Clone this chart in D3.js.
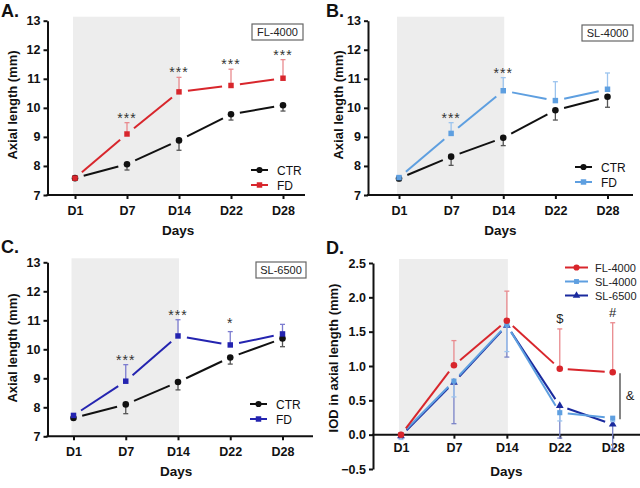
<!DOCTYPE html>
<html><head><meta charset="utf-8">
<script src="https://cdn.jsdelivr.net/npm/d3@7"></script>
<style>
body{margin:0;background:#fff}
svg{display:block}
text{font-family:Arial,"Liberation Sans",Helvetica,sans-serif}
</style>
</head><body>
<svg width="640" height="488"></svg>
<script>
// ---------- data ----------
const days = ["D1", "D7", "D14", "D22", "D28"];
const axialTicks = [7, 8, 9, 10, 11, 12, 13];
const iodTicks = [-0.5, 0, 0.5, 1.0, 1.5, 2.0, 2.5];

// Panel A: FL-4000
const aCtr = [7.58, 8.06, 8.88, 9.78, 10.09];
const aCtrErr = [0.03, 0.2, 0.34, 0.2, 0.2];
const aFd = [7.58, 9.1, 10.55, 10.77, 11.02];
const aFdErr = [0.03, 0.39, 0.5, 0.56, 0.64];
const aStars = ["", "***", "***", "***", "***"];

// Panel B: SL-4000
const bCtr = [7.57, 8.32, 8.97, 9.92, 10.38];
const bCtrErr = [0.08, 0.3, 0.27, 0.34, 0.36];
const bFd = [7.6, 9.12, 10.59, 10.25, 10.64];
const bFdErr = [0.05, 0.37, 0.45, 0.65, 0.56];
const bStars = ["", "***", "***", "", ""];

// Panel C: SL-6500
const cCtr = [7.63, 8.1, 8.87, 9.72, 10.37];
const cCtrErr = [0.05, 0.32, 0.27, 0.23, 0.28];
const cFd = [7.72, 8.9, 10.46, 10.15, 10.53];
const cFdErr = [0.03, 0.57, 0.56, 0.46, 0.33];
const cStars = ["", "***", "***", "*", ""];

// Panel D: IOD in axial length
const dFL = [0, 1.01, 1.66, 0.96, 0.91];
const dFLErr = [0.03, 0.36, 0.43, 0.58, 0.72];      // upward
const dSL4 = [0, 0.78, 1.6, 0.32, 0.24];
const dSL4Err = [0.07, 0.23, 0.39, 0.12, 0.05];      // downward
const dSL65 = [-0.02, 0.76, 1.59, 0.42, 0.15];
const dSL65Err = [0.03, 0.6, 0.46, 0.47, 0.36];      // downward
const dMarks = ["", "", "", "$", "#"];

// ---------- drawing ----------
const svg = d3.select("svg");
const RED = "#d8262c", RED_ERR = "#e98a8e";
const LBLUE = "#5e9fe0", LBLUE_ERR = "#9cc4ee";
const DBLUE = "#2424b0", DBLUE_ERR = "#7c7cd0";
const DBLUE2 = "#1a2a9e", DBLUE2_ERR = "#7a84c8";
const BLACK = "#111", BLACK_ERR = "#555";

function symbolPath(type, size) {
  return d3.symbol().type(type).size(size)();
}

function makePanel(cfg) {
  const g = svg.append("g");
  const x = d3.scalePoint().domain(days).range([cfg.x1, cfg.x5]);
  const y = d3.scaleLinear().domain(cfg.yDomain).range([cfg.yBot, cfg.yTop]);

  // shaded period D1..D14
  const base = y(cfg.shadeBase);
  g.append("rect")
    .attr("x", x("D1") - 2).attr("y", cfg.yTop - 4)
    .attr("width", x("D14") - x("D1") + 3)
    .attr("height", base - cfg.yTop + 4)
    .attr("fill", "#ededed");

  // y axis
  const ya = g.append("g").attr("transform", `translate(${cfg.L},0)`)
    .call(d3.axisLeft(y).tickValues(cfg.yTicks).tickFormat(cfg.yFormat)
      .tickSize(4).tickSizeOuter(0).tickPadding(3));
  ya.select(".domain").attr("stroke", "#111").attr("stroke-width", 2);
  ya.selectAll(".tick line").attr("stroke", "#111").attr("stroke-width", 2);
  ya.selectAll(".tick text").attr("font-size", 12.5).attr("font-weight", "bold").attr("fill", "#111");

  // x axis
  const xa = g.append("g").attr("transform", `translate(0,${y(cfg.xAxisAt)})`)
    .call(d3.axisBottom(x).tickSize(4).tickPadding(cfg.xPad));
  xa.select(".domain").remove();
  xa.append("line").attr("x1", cfg.L - 1).attr("x2", cfg.R).attr("stroke", "#111").attr("stroke-width", 2);
  xa.selectAll(".tick line").attr("stroke", "#111").attr("stroke-width", 2);
  xa.selectAll(".tick text").attr("font-size", 12.5).attr("font-weight", "bold").attr("fill", "#111");

  // titles
  g.append("text").attr("x", (cfg.L + cfg.R) / 2 + cfg.daysDx).attr("y", cfg.daysY)
    .attr("text-anchor", "middle").attr("font-size", 13.5).attr("font-weight", "bold").attr("fill", "#111").text("Days");
  g.append("text").attr("transform", `translate(${cfg.yTitleX},${cfg.yTitleY}) rotate(-90)`)
    .attr("text-anchor", "middle").attr("font-size", 13).attr("font-weight", "bold").attr("fill", "#111").text(cfg.yTitle);
  g.append("text").attr("x", cfg.letterX).attr("y", cfg.letterY)
    .attr("font-size", 18).attr("font-weight", "bold").attr("fill", "#111").text(cfg.letter);

  return {g, x, y};
}

function drawSeries(p, vals, errs, dir, color, errColor, symType, symSize, gap) {
  const {g, x, y} = p;
  const pts = vals.map((v, i) => [x(days[i]), y(v)]);
  // error bars (one-sided)
  vals.forEach((v, i) => {
    const e = dir > 0 ? v + errs[i] : v - errs[i];
    const cx = x(days[i]);
    g.append("line").attr("x1", cx).attr("x2", cx).attr("y1", y(v)).attr("y2", y(e))
      .attr("stroke", errColor).attr("stroke-width", 1.3);
    g.append("line").attr("x1", cx - 2.5).attr("x2", cx + 2.5).attr("y1", y(e)).attr("y2", y(e))
      .attr("stroke", errColor).attr("stroke-width", 1.3);
  });
  // line segments with gaps at markers
  for (let i = 0; i < pts.length - 1; i++) {
    const [x0, y0] = pts[i], [x1, y1] = pts[i + 1];
    const len = Math.hypot(x1 - x0, y1 - y0);
    if (len <= 2 * gap) continue;
    const ux = (x1 - x0) / len, uy = (y1 - y0) / len;
    g.append("line")
      .attr("x1", x0 + ux * gap).attr("y1", y0 + uy * gap)
      .attr("x2", x1 - ux * gap).attr("y2", y1 - uy * gap)
      .attr("stroke", color).attr("stroke-width", 2);
  }
  // markers
  pts.forEach(([px, py]) => {
    g.append("path").attr("d", symbolPath(symType, symSize))
      .attr("transform", `translate(${px},${py})`).attr("fill", color);
  });
}

function drawStars(p, vals, errs, stars) {
  const {g, x, y} = p;
  stars.forEach((s, i) => {
    if (!s) return;
    g.append("text").attr("x", x(days[i])).attr("y", y(vals[i] + errs[i]) + (s === "*" ? -4 : 0))
      .attr("text-anchor", "middle").attr("font-size", 14).attr("letter-spacing", 1)
      .attr("fill", "#333").text(s);
  });
}

function legendCtrFd(p, lx, ly, fdColor) {
  const {g} = p;
  const rows = [["CTR", BLACK, d3.symbolCircle, 30], ["FD", fdColor, d3.symbolSquare, 30]];
  rows.forEach((r, i) => {
    const yy = ly + i * 15;
    g.append("line").attr("x1", lx).attr("x2", lx + 17).attr("y1", yy).attr("y2", yy)
      .attr("stroke", r[1]).attr("stroke-width", 2);
    g.append("path").attr("d", symbolPath(r[2], r[3])).attr("transform", `translate(${lx + 8.5},${yy})`).attr("fill", r[1]);
    g.append("text").attr("x", lx + 26).attr("y", yy + 4.5).attr("font-size", 12).attr("fill", "#111").text(r[0]);
  });
}

function labelBox(p, bx, by, w, h, label) {
  p.g.append("rect").attr("x", bx).attr("y", by).attr("width", w).attr("height", h)
    .attr("fill", "#fff").attr("stroke", "#666").attr("stroke-width", 1.2);
  p.g.append("text").attr("x", bx + w / 2).attr("y", by + h / 2 + 4).attr("text-anchor", "middle")
    .attr("font-size", 11).attr("fill", "#222").text(label);
}

const axialFmt = d3.format("d");

// Panel A
const pA = makePanel({L: 47.5, R: 305, x1: 75, x5: 283, yTop: 20.7, yBot: 195, yDomain: [7, 13],
  yTicks: axialTicks, yFormat: axialFmt, shadeBase: 7, xAxisAt: 7, xPad: 7,
  daysY: 235, daysDx: 2, yTitle: "Axial length (mm)", yTitleX: 17, yTitleY: 105,
  letter: "A.", letterX: 1, letterY: 17});
drawSeries(pA, aCtr, aCtrErr, -1, BLACK, BLACK_ERR, d3.symbolCircle, 34, 9);
drawSeries(pA, aFd, aFdErr, 1, RED, RED_ERR, d3.symbolSquare, 30, 9);
drawStars(pA, aFd, aFdErr, aStars);
legendCtrFd(pA, 251, 170, RED);
labelBox(pA, 252, 24, 51, 16, "FL-4000");

// Panel B
const pB = makePanel({L: 368, R: 633, x1: 399, x5: 607.5, yTop: 20.7, yBot: 195, yDomain: [7, 13],
  yTicks: axialTicks, yFormat: axialFmt, shadeBase: 7, xAxisAt: 7, xPad: 7,
  daysY: 235, daysDx: 0, yTitle: "Axial length (mm)", yTitleX: 343, yTitleY: 105,
  letter: "B.", letterX: 326, letterY: 17});
drawSeries(pB, bCtr, bCtrErr, -1, BLACK, BLACK_ERR, d3.symbolCircle, 34, 9);
drawSeries(pB, bFd, bFdErr, 1, LBLUE, LBLUE_ERR, d3.symbolSquare, 30, 9);
drawStars(pB, bFd, bFdErr, bStars);
legendCtrFd(pB, 575, 167, LBLUE);
labelBox(pB, 582, 25, 51, 16, "SL-4000");

// Panel C
const pC = makePanel({L: 47.5, R: 313, x1: 73.5, x5: 282.5, yTop: 262.3, yBot: 436.3, yDomain: [7, 13],
  yTicks: axialTicks, yFormat: axialFmt, shadeBase: 7, xAxisAt: 7, xPad: 7,
  daysY: 476, daysDx: -4, yTitle: "Axial length (mm)", yTitleX: 17, yTitleY: 348,
  letter: "C.", letterX: 1, letterY: 253});
drawSeries(pC, cCtr, cCtrErr, -1, BLACK, BLACK_ERR, d3.symbolCircle, 34, 9);
drawSeries(pC, cFd, cFdErr, 1, DBLUE, DBLUE_ERR, d3.symbolSquare, 30, 9);
drawStars(pC, cFd, cFdErr, cStars);
legendCtrFd(pC, 250, 404, DBLUE);
labelBox(pC, 256, 262, 50, 16, "SL-6500");

// Panel D
const pD = makePanel({L: 373, R: 640, x1: 401, x5: 612.7, yTop: 263, yBot: 469, yDomain: [-0.5, 2.5],
  yTicks: iodTicks, yFormat: d3.format(".1f"), shadeBase: 0, xAxisAt: 0, xPad: 4,
  daysY: 476, daysDx: 0, yTitle: "IOD in axial length (mm)", yTitleX: 338, yTitleY: 358,
  letter: "D.", letterX: 326, letterY: 254});
drawSeries(pD, dSL65, dSL65Err, -1, DBLUE2, DBLUE2_ERR, d3.symbolTriangle, 26, 8);
drawSeries(pD, dSL4, dSL4Err, -1, LBLUE, LBLUE_ERR, d3.symbolSquare, 26, 8);
drawSeries(pD, dFL, dFLErr, 1, RED, RED_ERR, d3.symbolCircle, 34, 8);
dMarks.forEach((m, i) => {
  if (!m) return;
  pD.g.append("text").attr("x", pD.x(days[i])).attr("y", pD.y(dFL[i] + dFLErr[i]) - 6)
    .attr("text-anchor", "middle").attr("font-size", 13).attr("fill", "#222").text(m);
});
// bracket "&" between FL-4000 and SL groups at D28
pD.g.append("line").attr("x1", 620).attr("x2", 620)
  .attr("y1", pD.y(dFL[4]) + 1).attr("y2", pD.y(dSL4[4]) + 1)
  .attr("stroke", "#333").attr("stroke-width", 1.2);
pD.g.append("text").attr("x", 630).attr("y", pD.y((dFL[4] + dSL4[4]) / 2) + 5)
  .attr("text-anchor", "middle").attr("font-size", 13).attr("fill", "#222").text("&");
// legend D
const dLegend = [["FL-4000", RED, d3.symbolCircle, 30], ["SL-4000", LBLUE, d3.symbolSquare, 24], ["SL-6500", DBLUE2, d3.symbolTriangle, 24]];
dLegend.forEach((r, i) => {
  const yy = 267.5 + i * 14;
  pD.g.append("line").attr("x1", 565).attr("x2", 588).attr("y1", yy).attr("y2", yy).attr("stroke", r[1]).attr("stroke-width", 2);
  pD.g.append("path").attr("d", symbolPath(r[2], r[3])).attr("transform", `translate(576.5,${yy})`).attr("fill", r[1]);
  pD.g.append("text").attr("x", 595).attr("y", yy + 4).attr("font-size", 11).attr("fill", "#222").text(r[0]);
});
</script>
</body></html>
